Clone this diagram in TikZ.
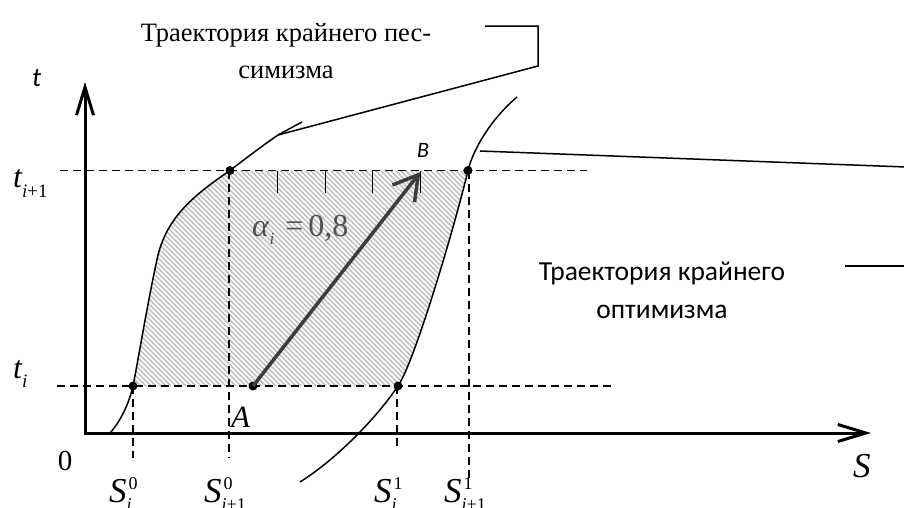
\documentclass[tikz,border=0pt]{standalone}
\usepackage{fontspec}
\setmainfont{Liberation Serif}
\newfontfamily\calib{Carlito}
\usetikzlibrary{arrows.meta}
\definecolor{arrowgray}{HTML}{3C3C3C}
\definecolor{alphagray}{HTML}{505050}
\definecolor{hatchgray}{HTML}{C2C2C2}
\newcommand\mysub[1]{\raisebox{-8pt}{\fontsize{18}{18}\selectfont #1}}
\newcommand\mysup[1]{\rlap{\raisebox{13pt}{\fontsize{18}{18}\selectfont\kern2pt #1}}}
\begin{document}
\begin{tikzpicture}[x=1pt,y=-1pt,
  axis/.style={line width=3pt,-{Straight Barb[length=28pt,width=17pt]}},
  guide/.style={line width=1.3pt,dash pattern=on 8pt off 5pt},
  curve/.style={line width=1.5pt},
  leader/.style={line width=1.5pt},
  dot/.style={circle,fill=black,inner sep=0pt,minimum size=9pt},
  tickmark/.style={line width=1.3pt},
  hatch/.style={hatchgray,line width=1.5pt},
  vec/.style={arrowgray,line width=3.5pt,-{Straight Barb[length=24pt,width=28pt]}},
  serlab/.style={inner sep=0pt,anchor=base west,font=\fontsize{35}{35}\selectfont\itshape},
]
\useasboundingbox (0,0) rectangle (904,507);

% hatched region
\begin{scope}
\clip (133,386) .. controls (140,350) and (148,300) .. (158,255) .. controls (168,215) and (197,193) .. (230,170.5) -- (468,170.5) .. controls (455,225) and (415,361) .. (398,386) -- cycle;
\foreach \k in {-300,-295,...,500} \draw[hatch] (\k,150) -- ++(260,260);
\end{scope}

% guide coordinates
\coordinate (hT1) at (60,170.5);  \coordinate (hT2) at (587,170.5);
\coordinate (hB1) at (57,386);    \coordinate (hB2) at (613,386);
\coordinate (vL0) at (133,386);   \coordinate (vL0b) at (133,458);
\coordinate (vL1) at (229,170.5); \coordinate (vL1b) at (229,458);
\coordinate (vR0) at (397,386);   \coordinate (vR0b) at (397,450);
\coordinate (vR1) at (469,170.5); \coordinate (vR1b) at (469,480);
\draw[guide] (hT1) -- (hT2);
\draw[guide] (hB1) -- (hB2);
\draw[guide] (vL0) -- (vL0b);
\draw[guide] (vL1) -- (vL1b);
\draw[guide] (vR0) -- (vR0b);
\draw[guide] (vR1) -- (vR1b);

% ticks
\foreach \x [count=\n] in {277.6,325.2,372.8,420.4}{
  \coordinate (tk\n a) at (\x,170.5);
  \coordinate (tk\n b) at (\x,193);
  \draw[tickmark] (tk\n a) -- (tk\n b);
}

% trajectories
\draw[curve] (110,433) .. controls (120,422) and (129,404) .. (133,386) .. controls (140,350) and (148,300) .. (158,255) .. controls (168,215) and (197,193) .. (230,170.5) .. controls (245,159) and (262,146) .. (278,135);
\draw[curve] (300,482) .. controls (335,460) and (375,420) .. (398,386) .. controls (415,361) and (455,225) .. (468,170.5) .. controls (473,150) and (490,120) .. (517,97);

% axes
\coordinate (Ytop) at (85,82);
\coordinate (Xend) at (871,433);
\coordinate (Ybot) at (85,434.5);
\coordinate (Xbeg) at (83.5,433);
\draw[axis] (Ybot) -- (Ytop);
\draw[axis] (Xbeg) -- (Xend);

% points
\node[dot] (L1) at (230,170.5) {};
\node[dot] (R1) at (468,170.5) {};
\node[dot] (L0) at (133,386) {};
\node[dot] (R0) at (398,386) {};
\node[dot] (A) at (253,386) {};
\coordinate (B) at (420.4,172);
\draw[vec] (A.center) -- (B);

% leaders
\coordinate (pA) at (485,26); \coordinate (pB) at (538,26); \coordinate (pC) at (538,66);
\coordinate (pTip) at (278,135); \coordinate (pBarb) at (302,122);
\draw[leader,line join=miter] (pA) -- (pB) -- (pC) -- (pTip);
\draw[leader] (pTip) -- (pBarb);
\coordinate (oTip) at (480,151); \coordinate (oEnd) at (906,167);
\draw[leader] (oTip) -- (oEnd);
\coordinate (oA) at (845,266); \coordinate (oB) at (906,266);
\draw[leader] (oA) -- (oB);

% texts
\node[align=center,font=\fontsize{26.5}{37}\selectfont] (pes) at (286,51) {Траектория крайнего пес-\\симизма};
\node[align=center,font=\calib\fontsize{27.5}{38}\selectfont] (opt) at (662,290) {Траектория крайнего\\оптимизма};

\node[serlab] (S0i) at (109,502) {S\mysup{\upshape 0}\mysub{\itshape i}};
\node[serlab] (S0i1) at (204,502) {S\mysup{\upshape 0}\mysub{\itshape i\upshape +1}};
\node[serlab] (S1i) at (374,502) {S\mysup{\upshape 1}\mysub{\itshape i}};
\node[serlab] (S1i1) at (444,502) {S\mysup{\upshape 1}\mysub{\itshape i\upshape +1}};
\node[serlab] (Sax) at (853,477) {S};
\node[serlab,font=\fontsize{31}{31}\selectfont\itshape] (Alab) at (231,427) {A};
\node[inner sep=0pt,anchor=base west,font=\calib\itshape\fontsize{22}{22}\selectfont] (Blab) at (417,157) {B};
\node[inner sep=0pt,anchor=base west,font=\calib\itshape\fontsize{27}{27}\selectfont] (tax) at (32,86) {t};
\node[inner sep=0pt,font=\fontsize{29}{29}\selectfont] (zero) at (65,461) {0};
\node[inner sep=0pt,anchor=base west,font=\fontsize{32}{32}\selectfont\itshape] (ti1) at (13,187) {t\raisebox{-10pt}{\fontsize{19}{19}\selectfont\itshape i\upshape +1}};
\node[inner sep=0pt,anchor=base west,font=\fontsize{32}{32}\selectfont\itshape] (ti) at (13,378) {t\raisebox{-9pt}{\fontsize{19}{19}\selectfont\itshape i}};
\node[inner sep=0pt,anchor=base west,text=alphagray,font=\fontsize{32}{32}\selectfont] (alpha) at (252,236) {\textit{α}\raisebox{-8pt}{\fontsize{17}{17}\selectfont\itshape i}\hspace{11pt}=\hspace{5pt}0,8};
\end{tikzpicture}
\end{document}
